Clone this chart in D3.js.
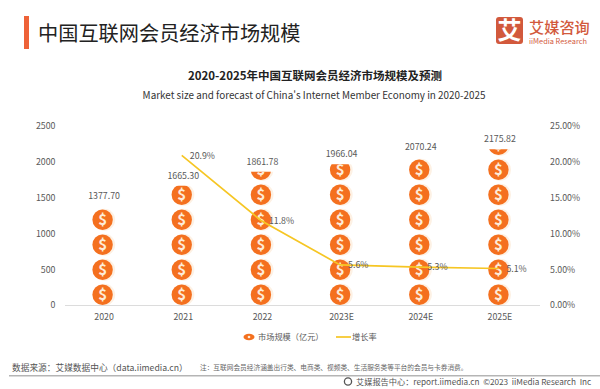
<!DOCTYPE html>
<html lang="zh">
<head>
  <meta charset="UTF-8">
  <title>中国互联网会员经济市场规模</title>
  <script src="https://cdn.jsdelivr.net/npm/d3@7"></script>
  <style>
  html, body { margin: 0; padding: 0; background: #fff; }
  svg { display: block; }
  text { font-family: "Noto Sans CJK SC", "Noto Sans", sans-serif; }
  </style>
</head>
<body>
  <svg id="chart" width="600" height="389"></svg>
  <script>
  const years = ['2020', '2021', '2022', '2023E', '2024E', '2025E'];
  const marketSize = [1377.70, 1665.30, 1861.78, 1966.04, 2070.24, 2175.82];
  const growth = [null, 20.9, 11.8, 5.6, 5.3, 5.1];
  const leftTicks = [0, 500, 1000, 1500, 2000, 2500];
  const rightTicks = [0, 5, 10, 15, 20, 25];

  const svg = d3.select('#chart');
  const orange = '#f4701f', yellow = '#f6c624', grey = '#595959';

  const x = d3.scaleBand().domain(years).range([63, 538]);
  const y = d3.scaleLinear().domain([0, 2500]).range([305, 126]);
  const y2 = d3.scaleLinear().domain([0, 25]).range([305, 126]);
  const cx = d => x(d) + x.bandwidth() / 2;

  // Header
  svg.append('rect').attr('x', 24).attr('y', 16).attr('width', 5).attr('height', 33).attr('fill', '#ee6238');
  svg.append('text').attr('x', 38).attr('y', 41).attr('font-size', 20.2).attr('fill', '#222')
    .text('中国互联网会员经济市场规模');

  // Logo
  svg.append('rect').attr('x', 496).attr('y', 17).attr('width', 27).attr('height', 27).attr('rx', 3).attr('fill', '#d2593c');
  svg.append('text').attr('x', 509.5).attr('y', 39).attr('text-anchor', 'middle')
    .attr('font-size', 24).attr('font-weight', 700).attr('fill', '#fff').text('艾');
  svg.append('text').attr('x', 529).attr('y', 32.5).attr('font-size', 15.2).attr('font-weight', 500)
    .attr('fill', '#d2593c').text('艾媒咨询');
  svg.append('text').attr('x', 529).attr('y', 43.5).attr('font-size', 7.4)
    .attr('fill', '#d2593c').text('iiMedia Research');

  // Titles
  svg.append('text').attr('x', 315).attr('y', 80).attr('text-anchor', 'middle')
    .attr('font-size', 11.5).attr('font-weight', 700).attr('fill', '#222')
    .text('2020-2025年中国互联网会员经济市场规模及预测');
  svg.append('text').attr('x', 314).attr('y', 98.5).attr('text-anchor', 'middle')
    .attr('font-size', 9.9).attr('fill', '#333')
    .text("Market size and forecast of China's Internet Member Economy in 2020-2025");

  // Axes
  const axisLeft = d3.axisLeft(y).tickValues(leftTicks).tickSize(0).tickPadding(0).tickFormat(d3.format('d'));
  const gl = svg.append('g').attr('transform', 'translate(55.5,0)').call(axisLeft);
  gl.select('.domain').remove();
  const axisRight = d3.axisRight(y2).tickValues(rightTicks).tickSize(0).tickPadding(0)
    .tickFormat(d => d.toFixed(2) + '%');
  const gr = svg.append('g').attr('transform', 'translate(550,0)').call(axisRight);
  gr.select('.domain').remove();
  const axisBottom = d3.axisBottom(x).tickSize(0).tickPadding(9);
  const gb = svg.append('g').attr('transform', 'translate(1.5,305)').call(axisBottom);
  gb.select('.domain').attr('stroke', '#dcdcdc');
  svg.selectAll('.tick text').attr('font-size', 8.8).attr('fill', grey)
    .style('font-family', '"Noto Sans CJK SC", sans-serif');

  // Coin columns, one coin every 25px from the baseline, clipped at the value
  const coinUnit = y.invert(305 - 25);
  const coinR = y.invert(305 - 10.2);
  const defs = svg.append('defs');
  years.forEach((yr, i) => {
    defs.append('clipPath').attr('id', 'clip' + i).append('rect')
      .attr('x', cx(yr) - 16).attr('width', 32)
      .attr('y', y(marketSize[i])).attr('height', y(0) - y(marketSize[i]));
    const col = svg.append('g').attr('clip-path', `url(#clip${i})`);
    const coins = col.selectAll('g').data(d3.range(Math.ceil(marketSize[i] / coinUnit))).join('g')
      .attr('transform', k => `translate(${cx(yr)},${y(k * coinUnit + coinR)})`);
    coins.append('circle').attr('cx', 1.6).attr('r', 11).attr('fill', '#fdf1e4');
    coins.append('circle').attr('r', 10.2).attr('fill', orange);
    coins.append('text').attr('y', 5.4).attr('text-anchor', 'middle')
      .attr('font-size', 15).attr('font-weight', 700).attr('fill', '#fdebd8').text('$');
  });

  // Bar value labels
  svg.selectAll('.val').data(years).join('text').attr('class', 'val')
    .attr('x', d => cx(d) + 1.5).attr('y', (d, i) => y(marketSize[i]) - 7)
    .attr('text-anchor', 'middle').attr('font-size', 8.8).attr('fill', grey)
    .text((d, i) => marketSize[i].toFixed(2));

  // Growth line
  const pts = years.map((d, i) => ({ yr: d, v: growth[i] })).filter(d => d.v !== null);
  const line = d3.line().x(d => cx(d.yr)).y(d => y2(d.v));
  svg.append('path').datum(pts).attr('d', line).attr('fill', 'none')
    .attr('stroke', yellow).attr('stroke-width', 1.7);
  svg.selectAll('.rate').data(pts).join('text').attr('class', 'rate')
    .attr('x', d => cx(d.yr) + 8).attr('y', d => y2(d.v) + 3.2)
    .attr('font-size', 8.8).attr('fill', grey)
    .text(d => d.v.toFixed(1) + '%');

  // Legend
  svg.append('ellipse').attr('cx', 249).attr('cy', 337).attr('rx', 5.5).attr('ry', 3.2).attr('fill', orange);
  svg.append('circle').attr('cx', 249).attr('cy', 337).attr('r', 1.3).attr('fill', '#fdebd8');
  svg.append('text').attr('x', 258).attr('y', 340).attr('font-size', 8.2).attr('fill', grey).text('市场规模（亿元）');
  svg.append('line').attr('x1', 336).attr('x2', 351).attr('y1', 337).attr('y2', 337)
    .attr('stroke', yellow).attr('stroke-width', 1.7);
  svg.append('text').attr('x', 352).attr('y', 340).attr('font-size', 8.2).attr('fill', grey).text('增长率');

  // Footer
  svg.append('text').attr('x', 12).attr('y', 371).attr('font-size', 8.7).attr('fill', '#555')
    .text('数据来源：艾媒数据中心（data.iimedia.cn）');
  svg.append('text').attr('x', 200).attr('y', 370).attr('font-size', 6.7).attr('fill', '#666')
    .text('注：互联网会员经济涵盖出行类、电商类、视频类、生活服务类等平台的会员与卡券消费。');
  svg.append('rect').attr('x', 9).attr('y', 375).attr('width', 591).attr('height', 1.5).attr('fill', '#b5b5b5');
  svg.append('circle').attr('cx', 348).attr('cy', 381.5).attr('r', 3.6).attr('fill', 'none').attr('stroke', '#555').attr('stroke-width', 1.3);
  svg.append('text').attr('x', 356).attr('y', 384.5).attr('font-size', 8.2).attr('fill', '#555')
    .style('white-space', 'pre')
    .text('艾媒报告中心：report.iimedia.cn  ©2023  iiMedia Research  Inc');
  </script>
</body>
</html>
